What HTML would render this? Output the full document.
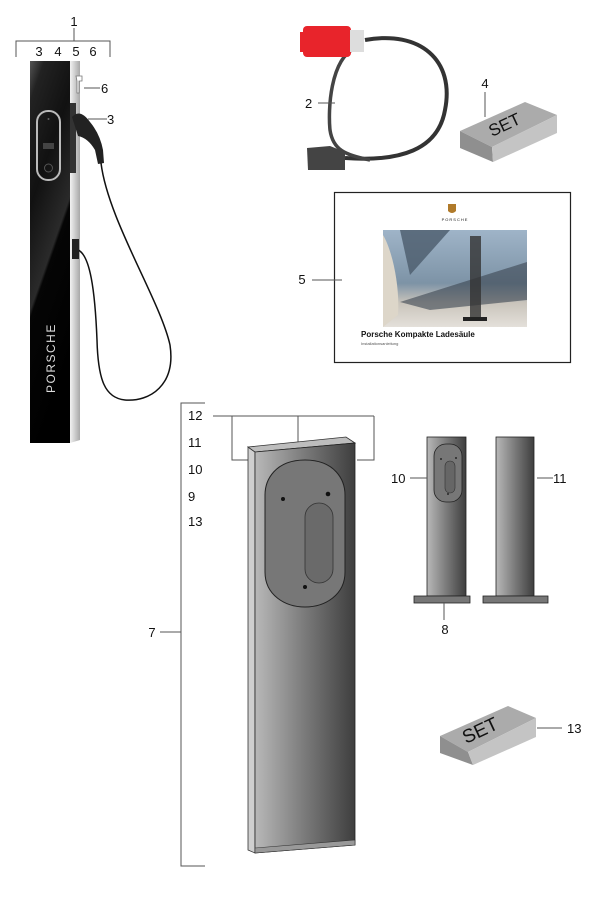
<!DOCTYPE html>
<html><head><meta charset="utf-8"><style>
html,body{margin:0;padding:0;background:#fff}
svg{display:block}
text{font-family:"Liberation Sans",Arial,sans-serif;fill:#111}
</style></head><body>
<svg width="600" height="900" viewBox="0 0 600 900" xmlns="http://www.w3.org/2000/svg">
<defs>
<linearGradient id="colg" x1="0" x2="1" y1="0" y2="0">
<stop offset="0" stop-color="#b8b8b8"/><stop offset="0.5" stop-color="#7a7a7a"/><stop offset="1" stop-color="#3e3e3e"/>
</linearGradient>
<linearGradient id="side" x1="0" x2="1"><stop offset="0" stop-color="#f2f2f2"/><stop offset="1" stop-color="#a8a8a8"/></linearGradient>
<linearGradient id="blk" x1="0" y1="0" x2="0.3" y2="1"><stop offset="0" stop-color="#555"/><stop offset="0.1" stop-color="#222"/><stop offset="0.35" stop-color="#111"/><stop offset="0.6" stop-color="#2a2a2a"/><stop offset="0.62" stop-color="#050505"/><stop offset="1" stop-color="#000"/></linearGradient>
<linearGradient id="photo" x1="0" y1="0" x2="0" y2="1"><stop offset="0" stop-color="#9fb4c8"/><stop offset="0.55" stop-color="#7d93a6"/><stop offset="0.75" stop-color="#c9c4bb"/><stop offset="1" stop-color="#e4e0da"/></linearGradient>
</defs>

<!-- Charger top-left -->
<g stroke="#555" stroke-width="1" fill="none">
<line x1="74" y1="28" x2="74" y2="41"/>
<polyline points="16,57 16,41 110,41 110,57"/>
</g>
<text x="74" y="26" font-size="13" text-anchor="middle">1</text>
<text x="39" y="56" font-size="13" text-anchor="middle">3</text>
<text x="58" y="56" font-size="13" text-anchor="middle">4</text>
<text x="76" y="56" font-size="13" text-anchor="middle">5</text>
<text x="93" y="56" font-size="13" text-anchor="middle">6</text>

<polygon points="70,61 80,61 80,440 70,443" fill="url(#side)"/>
<rect x="30" y="61" width="40" height="382" fill="url(#blk)"/>
<rect x="37" y="111" width="23" height="69" rx="11" fill="none" stroke="#bbb" stroke-width="2"/>
<rect x="43" y="143" width="11" height="6" fill="#444"/>
<circle cx="48.5" cy="168" r="4" fill="none" stroke="#555"/>
<circle cx="48.5" cy="119" r="1" fill="#666"/>
<text transform="translate(55,393) rotate(-90)" font-size="12" letter-spacing="1.5" style="fill:#ddd">PORSCHE</text>
<!-- holster & handle -->
<rect x="70" y="103" width="6" height="70" fill="#333"/>
<path d="M72,117 Q80,108 90,122 Q100,134 103,150 L104,163 L98,164 L95,150 Q88,138 78,136 Z" fill="#222"/>
<path d="M101,163 C108,220 160,300 170,345 C176,385 150,402 125,400 C105,398 98,380 97,340 C95,290 90,255 78,250" fill="none" stroke="#111" stroke-width="1.5"/>
<rect x="72" y="239" width="7" height="20" fill="#222"/>
<path d="M76,76 l6,0 l0,5 l-3,0 l0,12 l-2,0 l0,-12 z" fill="#fff" stroke="#777" stroke-width="0.8"/>
<line x1="84" y1="88" x2="100" y2="88" stroke="#555"/>
<text x="101" y="93" font-size="13">6</text>
<line x1="88" y1="119" x2="107" y2="119" stroke="#555"/>
<text x="107" y="124" font-size="13">3</text>

<!-- Cable 2 -->
<path d="M365,40 C420,30 455,60 445,110 C438,150 400,162 345,158" fill="none" stroke="#333" stroke-width="4"/>
<path d="M355,48 C330,60 328,110 330,130 C333,150 345,155 370,160" fill="none" stroke="#444" stroke-width="3.5"/>
<rect x="303" y="26" width="48" height="31" rx="4" fill="#e8242b"/>
<rect x="300" y="32" width="8" height="20" fill="#e8242b"/>
<rect x="350" y="30" width="14" height="22" fill="#ddd"/>
<path d="M307,148 L330,146 L345,152 L345,170 L308,170 Z" fill="#444"/>
<line x1="318" y1="103" x2="335" y2="103" stroke="#555"/>
<text x="305" y="108" font-size="13">2</text>

<!-- SET 4 -->
<polygon points="460,131 525,102 557,115 492,147" fill="#ababab"/>
<polygon points="460,131 492,147 493,162 460,148" fill="#8f8f8f"/>
<polygon points="492,147 557,115 557,133 493,162" fill="#c4c4c4"/>
<text transform="translate(492,137) rotate(-25)" font-size="17" style="fill:#111">SET</text>
<line x1="485" y1="92" x2="485" y2="117" stroke="#555"/>
<text x="485" y="88" font-size="13" text-anchor="middle">4</text>

<!-- Booklet 5 -->
<rect x="334.5" y="192.5" width="236" height="170" fill="#fff" stroke="#222" stroke-width="1.2"/>
<path d="M448,204 h8 v7 q-4,4 -8,0 z" fill="#b07a2a"/>
<text x="455" y="221" font-size="4" text-anchor="middle" letter-spacing="1">PORSCHE</text>
<rect x="383" y="230" width="144" height="97" fill="url(#photo)"/>
<path d="M383,235 C392,250 400,285 398,315 L383,327 Z" fill="#ddd6c9"/>
<path d="M400,230 L450,230 L410,275 Z" fill="#4b5b6b" opacity="0.8"/>
<path d="M400,302 L527,262 L527,300 L430,310 Z" fill="#3a4550" opacity="0.6"/>
<rect x="470" y="236" width="11" height="82" fill="#333" opacity="0.8"/>
<rect x="463" y="317" width="24" height="4" fill="#222"/>
<text x="361" y="337" font-size="8" font-weight="bold">Porsche Kompakte Ladesäule</text>
<text x="361" y="345" font-size="4" style="fill:#555">Installationsanleitung</text>
<line x1="312" y1="280" x2="342" y2="280" stroke="#555"/>
<text x="302" y="284" font-size="13" text-anchor="middle">5</text>

<!-- Left bracket 7 -->
<polyline points="205,403 181,403 181,866 205,866" fill="none" stroke="#555"/>
<line x1="160" y1="632" x2="181" y2="632" stroke="#555"/>
<text x="152" y="637" font-size="13" text-anchor="middle">7</text>
<text x="188" y="420" font-size="13">12</text>
<text x="188" y="447" font-size="13">11</text>
<text x="188" y="474" font-size="13">10</text>
<text x="188" y="501" font-size="13">9</text>
<text x="188" y="526" font-size="13">13</text>

<!-- Bracket 12 -->
<g stroke="#555" fill="none">
<line x1="213" y1="416" x2="374" y2="416"/>
<polyline points="252,460 232,460 232,416"/>
<line x1="298" y1="416" x2="298" y2="443"/>
<polyline points="357,460 374,460 374,416"/>
</g>

<!-- Big column -->
<polygon points="248,447 255,452 255,853 248,850" fill="#cfcfcf" stroke="#333" stroke-width="0.8"/>
<polygon points="248,447 346,437 355,443 255,452" fill="#bdbdbd" stroke="#333" stroke-width="0.8"/>
<polygon points="255,452 355,443 355,845 255,853" fill="url(#colg)" stroke="#222" stroke-width="0.8"/>
<polygon points="255,848 355,840 355,845 255,853" fill="#999" stroke="#333" stroke-width="0.6"/>
<path d="M305,460 C335,460 345,480 345,495 L345,572 C345,595 325,607 305,607 C285,607 265,595 265,572 L265,495 C265,480 275,460 305,460 Z" fill="#777" stroke="#222" stroke-width="1"/>
<rect x="305" y="503" width="28" height="80" rx="14" fill="#6a6a6a" stroke="#333" stroke-width="0.8"/>
<circle cx="283" cy="499" r="2" fill="#111"/>
<circle cx="328" cy="494" r="2.3" fill="#111"/>
<circle cx="305" cy="587" r="2" fill="#111"/>

<!-- Column 10 -->
<rect x="427" y="437" width="39" height="159" fill="url(#colg)" stroke="#222" stroke-width="0.8"/>
<rect x="434" y="444" width="28" height="58" rx="12" fill="#777" stroke="#222" stroke-width="0.8"/>
<rect x="445" y="461" width="10" height="32" rx="5" fill="#666" stroke="#333" stroke-width="0.6"/>
<circle cx="441" cy="459" r="0.9" fill="#111"/><circle cx="456" cy="458" r="0.9" fill="#111"/><circle cx="448" cy="494" r="0.9" fill="#111"/>
<rect x="414" y="596" width="56" height="7" fill="#777" stroke="#222" stroke-width="0.8"/>
<line x1="410" y1="478" x2="427" y2="478" stroke="#555"/>
<text x="391" y="483" font-size="13">10</text>
<line x1="444" y1="602" x2="444" y2="620" stroke="#555"/>
<text x="445" y="634" font-size="13" text-anchor="middle">8</text>

<!-- Column 11 -->
<rect x="496" y="437" width="38" height="159" fill="url(#colg)" stroke="#222" stroke-width="0.8"/>
<rect x="483" y="596" width="65" height="7" fill="#777" stroke="#222" stroke-width="0.8"/>
<line x1="537" y1="478" x2="553" y2="478" stroke="#555"/>
<text x="553" y="483" font-size="13">11</text>

<!-- SET 13 -->
<polygon points="440,736 508,706 536,718 468,752" fill="#ababab"/>
<polygon points="440,736 468,752 473,765 440,753" fill="#8f8f8f"/>
<polygon points="468,752 536,718 536,737 473,765" fill="#c4c4c4"/>
<text transform="translate(466,744) rotate(-25)" font-size="19" style="fill:#111">SET</text>
<line x1="537" y1="728" x2="562" y2="728" stroke="#555"/>
<text x="567" y="733" font-size="13">13</text>
</svg>
</body></html>
